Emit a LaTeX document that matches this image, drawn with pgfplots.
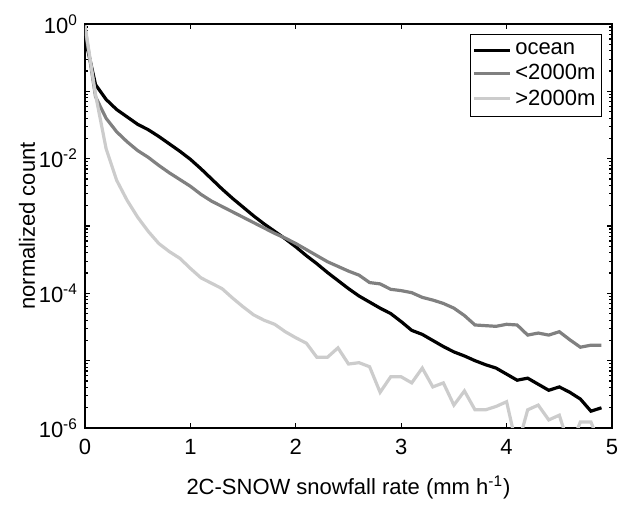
\documentclass[border=0pt]{standalone}
\usepackage{fontspec}
\setmainfont{Liberation Sans}
\usepackage{pgfplots}
\usepackage{pgfplotstable}
\pgfplotsset{compat=1.18}
\definecolor{cmid}{gray}{0.5}
\definecolor{clight}{gray}{0.8}
% columns: x, log10 of normalized count for ocean (o), <2000m (l), >2000m (h)
\pgfplotstableread{
x o l h
0.0 -0.20 -0.06 -0.02
0.1 -0.90 -1.08 -1.05
0.2 -1.12 -1.40 -1.85
0.3 -1.27 -1.60 -2.32
0.4 -1.38 -1.75 -2.62
0.5 -1.49 -1.88 -2.87
0.6 -1.57 -1.98 -3.08
0.7 -1.67 -2.10 -3.26
0.8 -1.78 -2.21 -3.38
0.9 -1.89 -2.31 -3.48
1.0 -2.01 -2.41 -3.63
1.1 -2.15 -2.53 -3.77
1.2 -2.30 -2.63 -3.85
1.3 -2.45 -2.71 -3.93
1.4 -2.59 -2.79 -4.07
1.5 -2.72 -2.87 -4.20
1.6 -2.85 -2.95 -4.32
1.7 -2.97 -3.03 -4.40
1.8 -3.08 -3.11 -4.46
1.9 -3.19 -3.18 -4.57
2.0 -3.31 -3.26 -4.66
2.1 -3.44 -3.35 -4.74
2.2 -3.56 -3.44 -4.95
2.3 -3.69 -3.53 -4.95
2.4 -3.81 -3.60 -4.81
2.5 -3.93 -3.67 -5.05
2.6 -4.04 -3.73 -5.03
2.7 -4.13 -3.84 -5.09
2.8 -4.22 -3.86 -5.47
2.9 -4.30 -3.94 -5.24
3.0 -4.42 -3.96 -5.24
3.1 -4.55 -3.99 -5.33
3.2 -4.61 -4.06 -5.11
3.3 -4.70 -4.10 -5.39
3.4 -4.79 -4.15 -5.33
3.5 -4.87 -4.22 -5.66
3.6 -4.93 -4.33 -5.45
3.7 -5.00 -4.47 -5.73
3.8 -5.06 -4.48 -5.73
3.9 -5.11 -4.49 -5.68
4.0 -5.20 -4.46 -5.61
4.1 -5.29 -4.47 -6.30
4.2 -5.26 -4.62 -5.73
4.3 -5.35 -4.59 -5.66
4.4 -5.44 -4.62 -5.88
4.5 -5.39 -4.57 -5.81
4.6 -5.47 -4.69 -6.30
4.7 -5.57 -4.80 -5.91
4.8 -5.75 -4.77 -5.91
4.9 -5.70 -4.77 -6.30
}\data
\begin{document}
\begin{tikzpicture}
\begin{axis}[
  scale only axis, width=263.5pt, height=202pt,
  xmin=0, xmax=5, ymin=1e-6, ymax=1, ymode=log,
  xtick={0,1,2,3,4,5},
  ytick={1e-6,1e-5,1e-4,1e-3,1e-2,1e-1,1},
  yticklabel={\pgfmathtruncatemacro{\e}{round(\tick/2.302585)}\ifodd\e\else 10\textsuperscript{\e}\fi},
  xtick pos=both, ytick pos=both, tick align=inside,
  major tick length=2.6pt, minor tick length=1.5pt,
  axis line style={line width=0.8pt},
  every tick/.style={black, line width=0.6pt},
  /pgf/number format/assume math mode=true,
  tick label style={font=\fontsize{11}{13}\selectfont},
  xticklabel style={yshift=-2pt},
  label style={font=\fontsize{11}{13}\selectfont},
  xlabel={2C-SNOW snowfall rate (mm h\textsuperscript{-1})},
  ylabel={normalized count},
  xlabel shift=4pt, ylabel shift=-5pt,
  clip=true,
  legend style={at={(1,1)}, xshift=-5pt, yshift=-5pt, anchor=north east,
    draw=black, line width=0.6pt, font=\fontsize{11}{13}\selectfont,
    inner xsep=1pt, inner ysep=2pt, row sep=-0.5pt},
  legend cell align=left,
  legend image code/.code={\draw[#1, line width=1.5pt] (0pt,0pt) -- (18pt,0pt);},
]
\addplot[black, line width=1.6pt] table[x=x, y expr={10^(\thisrow{o})}] {\data};
\addlegendentry{ocean}
\addplot[cmid, line width=1.6pt] table[x=x, y expr={10^(\thisrow{l})}] {\data};
\addlegendentry{<2000m}
\addplot[clight, line width=1.6pt] table[x=x, y expr={10^(\thisrow{h})}] {\data};
\addlegendentry{>2000m}
\end{axis}
\pgfresetboundingbox
\path ([xshift=-42.5pt,yshift=-39pt]current axis.south west) rectangle ([xshift=4.5pt,yshift=12pt]current axis.north east);
\end{tikzpicture}
\end{document}
